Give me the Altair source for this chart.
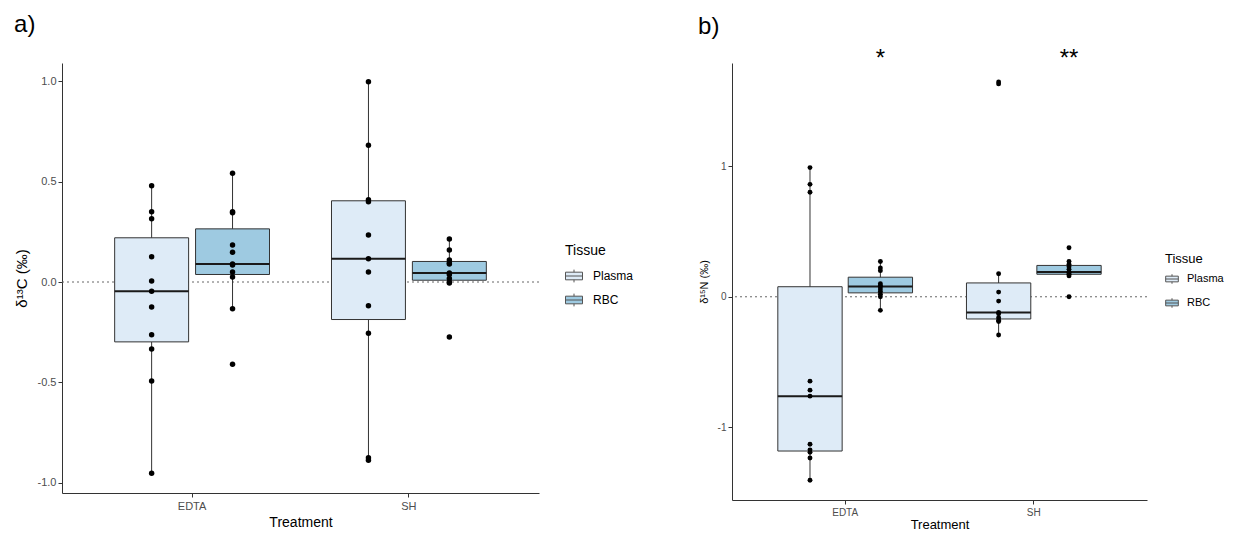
import altair as alt
import pandas as pd

treatments = ["EDTA", "SH"]
tissues = ["Plasma", "RBC"]
tissue_colors = ["#DEEBF7", "#9ECAE1"]

# panel a) d13C values
c13_edta_plasma = [0.48, 0.35, 0.315, 0.126, 0.005, -0.046, -0.125, -0.263, -0.334, -0.494, -0.954]
c13_edta_rbc = [0.542, 0.35, 0.345, 0.185, 0.148, 0.09, 0.085, 0.05, 0.025, -0.133, -0.41]
c13_sh_plasma = [0.999, 0.682, 0.41, 0.40, 0.234, 0.116, 0.05, -0.118, -0.256, -0.876, -0.889]
c13_sh_rbc = [0.214, 0.16, 0.11, 0.095, 0.09, 0.045, 0.038, 0.018, 0.0, -0.005, -0.274]

# panel b) d15N values
n15_edta_plasma = [0.989, 0.861, 0.80, -0.646, -0.715, -0.761, -1.129, -1.172, -1.19, -1.234, -1.405]
n15_edta_rbc = [0.27, 0.22, 0.20, 0.10, 0.085, 0.078, 0.06, 0.04, 0.02, 0.0, -0.104]
n15_sh_plasma = [1.645, 1.63, 0.176, 0.036, -0.033, -0.12, -0.13, -0.16, -0.18, -0.19, -0.293]
n15_sh_rbc = [0.375, 0.27, 0.25, 0.23, 0.21, 0.19, 0.185, 0.175, 0.17, 0.16, 0.0]

# significance markers (panel b)
sig_treatment = ["EDTA", "SH"]
sig_tissue = ["RBC", "RBC"]
sig_label = ["*", "**"]
sig_y = [1.82, 1.82]


def build(groups):
    rows = []
    for (tr, ti), vals in groups.items():
        for v in vals:
            rows.append({"Treatment": tr, "Tissue": ti, "v": v})
    return pd.DataFrame(rows)


df_c = build({("EDTA", "Plasma"): c13_edta_plasma, ("EDTA", "RBC"): c13_edta_rbc,
              ("SH", "Plasma"): c13_sh_plasma, ("SH", "RBC"): c13_sh_rbc})
df_n = build({("EDTA", "Plasma"): n15_edta_plasma, ("EDTA", "RBC"): n15_edta_rbc,
              ("SH", "Plasma"): n15_sh_plasma, ("SH", "RBC"): n15_sh_rbc})
zero_df = pd.DataFrame({"ref": [0]})
sig_df = pd.DataFrame({"Treatment": sig_treatment, "Tissue": sig_tissue,
                       "lab": sig_label, "y": sig_y})

SYMBOL = "M-1,-0.45H1V0.45H-1Z M-1,0H1 M0,-0.45V-0.75 M0,0.45V0.75"


def panel(df, letter, ytitle, ydomain, yvalues, fmt, width, height,
          tick_fs, title_fs, ytitle_fs, legend_x, legend_y, leg_title_fs, leg_label_fs,
          stars=None, ytitle_pad=8, point_size=30, title_offset=28, row_pad=2,
          sym_size=289, leg_title_pad=9, xtitle_pad=4, label_offset=10):
    x_enc = alt.X("Treatment:N", sort=treatments,
                  scale=alt.Scale(paddingInner=0, paddingOuter=0.1),
                  axis=alt.Axis(title="Treatment", labelAngle=0, labelFontSize=tick_fs,
                                titleFontSize=title_fs, titleFontWeight="normal",
                                titleColor="black", labelColor="#4d4d4d",
                                domainColor="#333333", tickColor="#333333",
                                tickSize=4, grid=False, labelPadding=3, titlePadding=xtitle_pad))
    xo_enc = alt.XOffset("Tissue:N", sort=tissues,
                         scale=alt.Scale(paddingInner=0.086, paddingOuter=0.383))
    y_scale = alt.Scale(domain=ydomain, nice=False, zero=False)
    y_axis = alt.Axis(title=ytitle, values=yvalues, format=fmt,
                      labelExpr="replace(datum.label, '\u2212', '-')",
                      labelFontSize=tick_fs, labelColor="#4d4d4d",
                      titleFontSize=ytitle_fs, titleFontWeight="normal", titleColor="black",
                      domainColor="#333333", tickColor="#333333", tickSize=4, grid=False,
                      titlePadding=ytitle_pad)

    zero = alt.Chart(zero_df).mark_rule(strokeDash=[2, 3], color="#666666", strokeWidth=1).encode(
        y=alt.Y("ref:Q", scale=y_scale, axis=y_axis))

    stats = alt.Chart(df).transform_joinaggregate(
        q1="q1(v)", q3="q3(v)", med="median(v)", groupby=["Treatment", "Tissue"]
    ).transform_calculate(
        lo="datum.q1 - 1.5*(datum.q3 - datum.q1)",
        hi="datum.q3 + 1.5*(datum.q3 - datum.q1)"
    ).transform_filter(
        "datum.v >= datum.lo && datum.v <= datum.hi"
    ).transform_aggregate(
        wmin="min(v)", wmax="max(v)", groupby=["Treatment", "Tissue", "q1", "q3", "med"]
    )

    whisk = stats.mark_rule(color="#333333", strokeWidth=1).encode(
        x=x_enc, xOffset=xo_enc, y=alt.Y("wmin:Q", scale=y_scale), y2="wmax:Q")
    box = stats.mark_bar(stroke="#333333", strokeWidth=1).encode(
        x=x_enc, xOffset=xo_enc, y=alt.Y("q1:Q", scale=y_scale), y2="q3:Q",
        fill=alt.Fill("Tissue:N", sort=tissues,
                      scale=alt.Scale(domain=tissues, range=tissue_colors),
                      legend=alt.Legend(title="Tissue", orient="none",
                                        legendX=legend_x, legendY=legend_y,
                                        titleFontSize=leg_title_fs, titleFontWeight="normal",
                                        titleColor="black", labelFontSize=leg_label_fs,
                                        labelColor="black", symbolType=SYMBOL,
                                        symbolSize=sym_size, symbolStrokeColor="#555555",
                                        symbolStrokeWidth=1, rowPadding=row_pad,
                                        labelOffset=label_offset, titlePadding=leg_title_pad)))
    med = stats.mark_bar(fillOpacity=0, stroke="#1a1a1a", strokeWidth=2).encode(
        x=x_enc, xOffset=xo_enc, y=alt.Y("med:Q", scale=y_scale), y2="med:Q")
    pts = alt.Chart(df).mark_circle(size=point_size, color="black", opacity=1).encode(
        x=x_enc, xOffset=xo_enc, y=alt.Y("v:Q", scale=y_scale))

    layers = [zero, whisk, box, med, pts]
    if stars is not None:
        layers.append(alt.Chart(stars).mark_text(fontSize=24, color="black", baseline="middle").encode(
            x=x_enc, xOffset=xo_enc, y=alt.Y("y:Q", scale=y_scale), text="lab:N"))

    return alt.layer(*layers).properties(
        width=width, height=height,
        title=alt.TitleParams(letter, anchor="start", frame="bounds", fontSize=24,
                              fontWeight="normal", color="black", offset=title_offset)
    )


pa = panel(df_c, "a)", "δ¹³C (‰)", [-1.052, 1.092], [-1.0, -0.5, 0.0, 0.5, 1.0], ".1f",
           477, 430, 11, 14, 15, 503, 181, 14, 12, point_size=30, title_offset=26,
           row_pad=6, sym_size=289, leg_title_pad=9, xtitle_pad=4)
pb = panel(df_n, "b)", "δ¹⁵N (‰)", [-1.556, 1.79], [-1, 0, 1], "d",
           415, 437, 10, 13, 11, 433, 190, 13, 11, stars=sig_df, point_size=24,
           title_offset=8, row_pad=10, sym_size=160, leg_title_pad=6, xtitle_pad=1,
           label_offset=8)

chart = alt.hconcat(pa, pb, spacing=62).resolve_scale(
    fill="independent", y="independent", x="independent", xOffset="independent"
).properties(
    padding={"left": 5, "top": 4, "right": 0, "bottom": 2}
).configure(font="Liberation Sans").configure_view(stroke="transparent")

chart.save("out.html", embed_options={"renderer": "svg", "actions": False})
